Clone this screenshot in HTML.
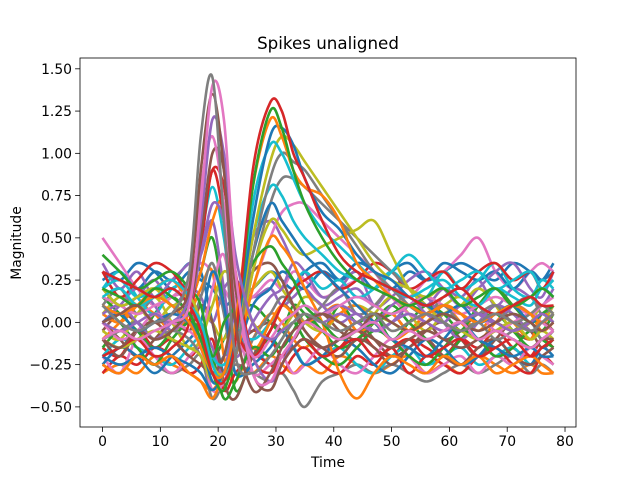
<!DOCTYPE html>
<html><head><meta charset="utf-8"><style>
body{margin:0;background:#fff}
svg{display:block;font-family:"DejaVu Sans","Liberation Sans",sans-serif}
</style></head><body>
<svg id="chart" width="640" height="480" viewBox="0 0 640 480">
<rect width="640" height="480" fill="#fff"/>
<text x="328" y="49" font-size="16.7" text-anchor="middle" fill="#000">Spikes unaligned</text>
<g id="lines"></g>
<g id="axes"></g>
<text x="328" y="467" font-size="13.9" text-anchor="middle">Time</text>
<text x="0" y="0" font-size="13.9" text-anchor="middle" transform="translate(21,243) rotate(-90)">Magnitude</text>
</svg>
<script>
const xs=[0,3,6,9,12,15,17,19,21,23,26,29,31,33,35,38,41,44,47,50,53,56,59,62,65,68,71,74,76,78];
const xTicks=[0,10,20,30,40,50,60,70,80];
const yTicks=[-0.5,-0.25,0,0.25,0.5,0.75,1.0,1.25,1.5];
const yTickLabels=["−0.50","−0.25","0.00","0.25","0.50","0.75","1.00","1.25","1.50"];
const colors=["#1f77b4","#ff7f0e","#2ca02c","#d62728","#9467bd","#8c564b","#e377c2","#7f7f7f","#bcbd22","#17becf"];
const f1=[0.3,0.25,0.35,0.3,0.2,0.3,0.25,0.2,0.1,0.15,0.2,0.3,0.25,0.2,0.3,0.35,0.25,0.3,0.2,0.3,0.35,0.25,0.3,0.35,0.3,0.25,0.35,0.3,0.25,0.35];
const f2=[-0.3,-0.25,-0.3,-0.2,-0.25,-0.3,-0.35,-0.4,-0.3,-0.25,-0.3,-0.2,-0.25,-0.3,-0.25,-0.3,-0.2,-0.25,-0.3,-0.25,-0.2,-0.3,-0.25,-0.3,-0.2,-0.25,-0.3,-0.25,-0.3,-0.3];
const f3=[0.1,0.0,-0.1,0.05,0.15,0.05,0.0,-0.2,-0.1,0.05,0.1,0.0,-0.05,0.1,0.05,-0.05,0.1,0.0,0.05,-0.1,0.0,0.1,0.05,-0.05,0.0,0.1,0.05,0.0,-0.05,0.05];
const f4=[-0.15,-0.2,-0.05,-0.15,-0.1,-0.2,-0.15,-0.3,-0.2,-0.15,-0.05,-0.1,-0.2,-0.15,-0.1,-0.2,-0.15,-0.05,-0.15,-0.2,-0.1,-0.15,-0.2,-0.1,-0.15,-0.05,-0.15,-0.2,-0.1,-0.15];
const f5=[0.2,0.1,0.15,0.25,0.1,0.2,0.15,0.0,0.2,0.25,0.15,0.2,0.1,0.15,0.2,0.1,0.15,0.2,0.1,0.2,0.15,0.1,0.2,0.15,0.25,0.1,0.2,0.15,0.1,0.2];
const f6=[-0.05,0.05,0.0,-0.1,-0.05,0.0,-0.1,-0.25,-0.35,-0.15,-0.05,0.0,-0.05,-0.1,0.0,0.05,-0.05,-0.1,0.0,0.05,-0.05,0.0,-0.1,-0.05,0.05,0.0,-0.05,-0.1,0.0,-0.05];
const f7=[0.5,0.35,0.2,0.1,0.15,0.25,0.35,0.3,0.2,0.1,0.15,0.25,0.2,0.3,0.25,0.15,0.2,0.25,0.3,0.2,0.15,0.25,0.3,0.4,0.5,0.3,0.2,0.3,0.35,0.3];
const f8=[-0.25,-0.3,-0.2,-0.25,-0.3,-0.25,-0.2,-0.45,-0.35,-0.25,-0.3,-0.35,-0.3,-0.4,-0.5,-0.35,-0.3,-0.25,-0.3,-0.25,-0.3,-0.35,-0.3,-0.25,-0.3,-0.25,-0.2,-0.3,-0.25,-0.3];
const f9=[0.05,0.15,0.1,0.0,0.1,0.05,0.1,0.0,-0.1,0.1,0.2,0.3,0.2,0.1,0.0,-0.05,0.05,0.1,0.05,0.0,-0.05,0.05,0.1,0.15,0.05,0.0,0.1,0.05,0.0,0.1];
const f10=[-0.2,-0.1,-0.15,-0.2,-0.25,-0.15,-0.1,-0.3,-0.2,-0.1,-0.15,-0.25,-0.2,-0.15,-0.25,-0.2,-0.15,-0.25,-0.3,-0.2,-0.15,-0.25,-0.2,-0.15,-0.25,-0.2,-0.15,-0.25,-0.2,-0.25];
const n1=[0.25,0.3,0.2,0.3,0.25,0.35,0.3,0.0,-0.3,-0.2,0.1,0.2,0.3,0.25,0.2,0.3,0.25,0.35,0.3,0.2,0.3,0.25,0.35,0.3,0.25,0.3,0.2,0.3,0.25,0.3];
const n2=[-0.1,0.0,0.1,0.05,-0.05,0.05,0.2,0.3,-0.2,-0.35,-0.1,0.05,0.0,-0.1,-0.15,-0.05,0.05,0.1,0.0,-0.1,-0.05,0.05,0.1,0.0,-0.1,0.0,0.1,0.05,-0.05,0.0];
const n3=[0.15,0.05,-0.05,-0.15,-0.05,0.1,0.3,0.5,0.1,-0.4,-0.2,-0.1,-0.15,-0.05,0.05,-0.05,-0.15,-0.1,0.0,0.1,0.0,-0.1,-0.2,-0.1,0.0,0.05,-0.05,-0.15,-0.1,-0.05];
const n4=[-0.3,-0.2,-0.25,-0.15,-0.2,-0.3,-0.25,-0.1,-0.4,-0.3,-0.2,-0.25,-0.3,-0.2,-0.15,-0.25,-0.3,-0.2,-0.25,-0.15,-0.3,-0.2,-0.25,-0.3,-0.2,-0.15,-0.25,-0.3,-0.2,-0.25];
const n5=[0.35,0.2,0.3,0.15,0.25,0.35,0.4,0.6,0.2,-0.2,0.0,0.15,0.2,0.35,0.3,0.15,0.2,0.3,0.1,0.15,0.25,0.3,0.2,0.1,0.2,0.3,0.35,0.2,0.15,0.3];
const n6=[0.0,-0.1,-0.2,-0.1,0.0,-0.05,0.1,0.0,-0.35,-0.45,-0.2,-0.05,0.1,0.05,-0.05,-0.15,-0.1,0.0,-0.1,-0.2,-0.15,-0.05,0.0,-0.1,-0.2,-0.1,0.0,-0.05,-0.15,-0.1];
const n7=[-0.2,-0.3,-0.1,-0.2,-0.3,-0.2,-0.1,0.2,0.4,0.0,-0.3,-0.25,-0.2,-0.3,-0.25,-0.15,-0.25,-0.3,-0.2,-0.1,-0.2,-0.3,-0.25,-0.2,-0.3,-0.2,-0.25,-0.15,-0.2,-0.25];
const n8=[0.1,0.2,0.05,0.15,0.1,0.0,0.15,0.35,0.05,-0.3,-0.1,0.05,0.15,0.1,0.0,0.1,0.2,0.05,0.1,0.2,0.1,0.05,0.15,0.2,0.1,0.0,0.1,0.15,0.05,0.1];
const n9=[-0.05,-0.1,0.05,0.15,0.0,-0.15,-0.1,0.1,0.3,0.2,0.0,-0.1,-0.05,0.05,0.15,0.1,0.0,-0.05,0.05,0.15,0.05,-0.05,0.05,0.1,0.2,0.1,-0.05,0.0,0.1,0.05];
const n10=[0.2,0.3,0.15,0.05,0.2,0.25,0.5,0.8,0.5,0.0,-0.1,0.0,0.1,0.2,0.3,0.2,0.25,0.15,0.2,0.3,0.2,0.15,0.3,0.2,0.25,0.35,0.2,0.15,0.25,0.2];
const n11=[-0.25,-0.15,-0.2,-0.3,-0.2,-0.1,0.0,0.3,0.1,-0.3,-0.25,-0.15,-0.05,-0.15,-0.25,-0.2,-0.1,-0.15,-0.25,-0.3,-0.2,-0.1,-0.15,-0.25,-0.2,-0.1,-0.2,-0.25,-0.15,-0.2];
const n12=[0.05,0.0,0.1,0.2,0.25,0.15,0.3,0.6,0.7,0.2,-0.15,0.0,0.1,0.05,0.0,0.05,0.1,-0.05,0.0,0.05,-0.05,0.0,0.1,0.05,-0.05,0.05,0.0,-0.1,0.05,0.0];
const n13=[-0.15,-0.05,-0.15,-0.25,-0.1,0.0,-0.05,-0.2,-0.45,-0.35,-0.15,-0.2,-0.1,0.0,-0.1,-0.2,-0.25,-0.15,-0.05,-0.1,-0.2,-0.25,-0.15,-0.05,-0.1,-0.2,-0.15,-0.05,-0.1,-0.15];
const n14=[0.3,0.15,0.25,0.35,0.3,0.2,0.45,0.9,0.6,0.0,-0.2,-0.05,0.1,0.2,0.25,0.3,0.2,0.25,0.35,0.3,0.2,0.25,0.3,0.2,0.3,0.35,0.25,0.3,0.2,0.3];
const n15=[0.0,0.1,0.2,0.1,-0.05,0.05,0.0,-0.15,-0.3,0.1,0.5,0.6,0.5,0.35,0.2,0.1,0.0,0.05,-0.05,0.0,0.1,0.15,0.0,-0.1,0.0,0.1,0.05,-0.05,0.0,0.05];
const n16=[-0.1,-0.2,-0.05,0.0,-0.1,-0.2,-0.25,-0.3,-0.2,0.1,0.3,0.35,0.25,0.1,-0.05,-0.15,-0.2,-0.1,-0.15,-0.25,-0.15,-0.1,-0.2,-0.25,-0.15,-0.1,-0.2,-0.25,-0.2,-0.15];
const m1=[0.1,0.05,0.1,0.0,0.05,0.0,-0.1,-0.3,-0.3,-0.2,0.4,0.85,1.0,0.95,0.9,0.75,0.6,0.45,0.3,0.2,0.1,0.05,0.1,0.0,0.05,0.1,0.0,0.05,0.1,0.05];
const m2=[-0.1,-0.05,0.0,-0.1,-0.05,-0.1,-0.2,-0.35,-0.3,-0.2,0.3,0.7,0.85,0.85,0.8,0.7,0.6,0.5,0.4,0.3,0.2,0.1,0.0,-0.05,0.0,-0.1,-0.05,0.0,-0.1,-0.05];
const m3=[0.2,0.1,0.15,0.2,0.1,0.15,0.0,-0.25,-0.3,-0.1,0.5,0.95,1.1,1.05,0.95,0.8,0.65,0.5,0.35,0.25,0.2,0.15,0.2,0.1,0.15,0.2,0.1,0.15,0.2,0.15];
const m4=[0.0,-0.1,-0.05,0.05,0.0,-0.05,-0.15,-0.4,-0.35,-0.15,0.2,0.5,0.65,0.7,0.7,0.6,0.5,0.4,0.3,0.15,0.05,0.0,-0.05,0.0,0.05,-0.05,0.0,0.05,0.0,-0.05];
const p1=[0.1,0.0,-0.05,0.0,0.05,0.3,1.1,1.45,0.6,-0.2,-0.3,-0.2,-0.1,0.0,0.05,0.0,-0.05,0.0,0.05,-0.05,0.0,0.05,0.0,-0.05,0.0,0.05,0.0,-0.05,0.0,0.05];
const p2=[-0.1,-0.05,-0.1,-0.05,0.0,0.1,0.7,1.4,1.2,0.3,-0.3,-0.35,-0.2,-0.1,0.0,-0.05,-0.1,-0.05,0.0,-0.1,-0.05,-0.1,-0.05,0.0,-0.1,-0.05,-0.1,-0.15,-0.1,-0.05];
const p3=[0.0,0.05,0.1,0.0,0.05,0.2,0.9,1.35,0.9,0.0,-0.4,-0.3,-0.15,-0.05,0.0,0.05,0.0,-0.05,0.05,0.0,-0.05,0.0,0.05,0.0,-0.05,0.0,0.05,0.0,-0.05,0.0];
const p4=[0.15,0.1,0.05,0.1,0.15,0.25,0.8,1.1,0.7,0.1,-0.2,-0.1,0.0,0.05,0.1,0.05,0.1,0.15,0.1,0.05,0.1,0.15,0.1,0.05,0.1,0.15,0.1,0.05,0.1,0.15];
const p5=[-0.2,-0.15,-0.1,-0.2,-0.15,0.0,0.5,0.9,0.8,0.3,-0.2,-0.3,-0.2,-0.15,-0.1,-0.2,-0.15,-0.1,-0.2,-0.15,-0.1,-0.2,-0.15,-0.1,-0.2,-0.15,-0.1,-0.2,-0.15,-0.1];
const p6=[0.0,-0.05,0.0,0.05,0.0,0.15,0.6,1.2,1.0,0.4,0.0,-0.1,-0.05,0.0,0.05,0.0,0.05,0.0,-0.05,0.0,0.05,0.0,-0.05,0.0,0.05,0.0,-0.05,0.0,0.05,0.0];
const p7=[0.05,0.1,0.0,-0.1,0.0,0.1,0.4,0.7,0.6,0.2,-0.2,-0.35,-0.25,-0.1,0.0,0.05,0.1,0.05,0.0,0.1,0.15,0.05,0.0,0.1,0.05,0.0,0.1,0.05,0.0,0.05];
const p8=[-0.1,-0.15,-0.05,-0.1,-0.05,0.1,0.5,1.0,0.9,0.2,-0.3,-0.4,-0.25,-0.15,-0.1,-0.15,-0.1,-0.05,-0.1,-0.15,-0.1,-0.05,-0.1,-0.15,-0.1,-0.05,-0.1,-0.15,-0.1,-0.1];
const l1=[0.3,0.25,0.2,0.15,0.2,0.1,-0.05,-0.3,-0.35,-0.1,0.9,1.3,1.25,1.0,0.85,0.6,0.4,0.3,0.25,0.2,0.15,0.1,0.15,0.2,0.1,0.05,0.1,0.15,0.1,0.1];
const l2=[0.2,0.15,0.1,0.2,0.15,0.05,-0.1,-0.3,-0.4,-0.1,0.8,1.25,1.15,0.9,0.7,0.5,0.35,0.25,0.2,0.15,0.1,0.15,0.2,0.1,0.15,0.2,0.1,0.15,0.2,0.15];
const l3=[0.0,0.05,-0.05,0.0,0.05,0.0,-0.1,-0.35,-0.3,-0.1,0.6,1.1,1.15,1.05,0.85,0.65,0.55,0.4,0.3,0.25,0.15,0.1,0.05,0.1,0.0,0.05,0.1,0.0,0.05,0.0];
const l4=[0.1,0.05,0.1,0.15,0.1,0.0,-0.15,-0.3,-0.3,0.0,0.8,1.2,1.1,0.9,0.8,0.75,0.6,0.35,0.25,0.15,0.1,0.05,0.1,0.05,0.0,0.05,0.1,0.05,0.0,0.05];
const l5=[-0.1,-0.15,-0.1,-0.05,-0.1,-0.15,-0.2,-0.35,-0.3,-0.2,0.3,0.6,0.55,0.45,0.4,0.45,0.5,0.55,0.6,0.4,0.2,0.1,0.0,-0.05,-0.1,-0.05,0.0,-0.1,-0.05,-0.1];
const l6=[0.2,0.25,0.15,0.2,0.25,0.15,0.0,-0.2,-0.25,-0.1,0.5,0.8,0.75,0.6,0.5,0.4,0.3,0.25,0.2,0.3,0.4,0.3,0.2,0.25,0.3,0.2,0.25,0.3,0.2,0.25];
const l7=[-0.2,-0.25,-0.2,-0.15,-0.2,-0.25,-0.3,-0.4,-0.3,-0.1,0.4,0.7,0.6,0.5,0.4,0.3,0.2,0.1,0.0,-0.1,-0.15,-0.2,-0.1,0.0,-0.1,-0.15,-0.2,-0.15,-0.2,-0.2];
const l8=[-0.25,-0.3,-0.2,-0.25,-0.2,-0.3,-0.35,-0.45,-0.3,-0.2,0.2,0.5,0.45,0.35,0.2,0.0,-0.3,-0.45,-0.3,-0.2,-0.25,-0.3,-0.2,-0.25,-0.2,-0.3,-0.25,-0.2,-0.25,-0.3];
const l9=[0.4,0.3,0.2,0.25,0.3,0.2,0.1,-0.2,0.0,0.1,0.35,0.45,0.35,0.25,0.1,0.0,-0.1,-0.05,0.0,0.05,0.1,0.05,0.0,-0.05,0.1,0.2,0.1,0.0,0.05,0.1];
const l10=[0.15,0.2,0.1,0.15,0.2,0.1,0.0,-0.25,-0.35,-0.1,0.7,1.05,1.0,0.85,0.7,0.55,0.45,0.35,0.25,0.2,0.15,0.2,0.25,0.15,0.1,0.2,0.15,0.1,0.2,0.15];
const series=[f1,f2,f3,f4,f5,f6,f7,f8,f9,f10,n1,n2,n3,n4,n5,n6,n7,n8,n9,n10,n11,n12,n13,n14,n15,n16,m4,m2,l5,l6,l7,l8,l9,p5,p7,p8,p4,m1,m3,l10,l3,l4,l2,l1,p6,p3,p2,p1];

const L=80,R=576,T=58,B=427,XMIN=-3.9,XMAX=81.9,YMIN=-0.619,YMAX=1.564;
function sx(v){return L+(v-XMIN)/(XMAX-XMIN)*(R-L);}
function sy(v){return B-(v-YMIN)/(YMAX-YMIN)*(B-T);}
const NS="http://www.w3.org/2000/svg";
const lg=document.getElementById('lines');
const ag=document.getElementById('axes');
function pathFor(vals){
  const pts=vals.map((v,i)=>[sx(xs[i]),sy(v)]);
  let d="M"+pts[0][0].toFixed(1)+","+pts[0][1].toFixed(1);
  for(let i=0;i<pts.length-1;i++){
    const p0=pts[Math.max(0,i-1)],p1=pts[i],p2=pts[i+1],p3=pts[Math.min(pts.length-1,i+2)];
    const c1=[p1[0]+(p2[0]-p0[0])/6,p1[1]+(p2[1]-p0[1])/6];
    const c2=[p2[0]-(p3[0]-p1[0])/6,p2[1]-(p3[1]-p1[1])/6];
    d+="C"+c1[0].toFixed(1)+","+c1[1].toFixed(1)+" "+c2[0].toFixed(1)+","+c2[1].toFixed(1)+" "+p2[0].toFixed(1)+","+p2[1].toFixed(1);
  }
  return d;
}
series.forEach((vals,k)=>{
  const p=document.createElementNS(NS,'path');
  p.setAttribute('d',pathFor(vals));
  p.setAttribute('fill','none');
  p.setAttribute('stroke',colors[k%10]);
  p.setAttribute('stroke-width','2.6');
  p.setAttribute('stroke-linejoin','round');
  
  
  lg.appendChild(p);
});
const frame=document.createElementNS(NS,'rect');
frame.setAttribute('x',L);frame.setAttribute('y',T);frame.setAttribute('width',R-L);frame.setAttribute('height',B-T);
frame.setAttribute('fill','none');frame.setAttribute('stroke','#000');frame.setAttribute('stroke-width','0.8');


ag.appendChild(frame);
xTicks.forEach(t=>{
  const x=sx(t);
  const ln=document.createElementNS(NS,'line');
  ln.setAttribute('x1',x);ln.setAttribute('x2',x);ln.setAttribute('y1',B);ln.setAttribute('y2',B+4.9);
  ln.setAttribute('stroke','#000');ln.setAttribute('stroke-width','0.8');
  
  
  ag.appendChild(ln);
  const tx=document.createElementNS(NS,'text');
  tx.setAttribute('x',x);tx.setAttribute('y',B+19);tx.setAttribute('font-size','13.9');tx.setAttribute('text-anchor','middle');
  tx.textContent=String(t);
  
  
  ag.appendChild(tx);
});
yTicks.forEach((t,i)=>{
  const y=sy(t);
  const ln=document.createElementNS(NS,'line');
  ln.setAttribute('x1',L-4.9);ln.setAttribute('x2',L);ln.setAttribute('y1',y);ln.setAttribute('y2',y);
  ln.setAttribute('stroke','#000');ln.setAttribute('stroke-width','0.8');
  
  
  ag.appendChild(ln);
  const tx=document.createElementNS(NS,'text');
  tx.setAttribute('x',L-8);tx.setAttribute('y',y+5);tx.setAttribute('font-size','13.9');tx.setAttribute('text-anchor','end');
  tx.textContent=yTickLabels[i];
  
  
  ag.appendChild(tx);
});
</script>
</body></html>
